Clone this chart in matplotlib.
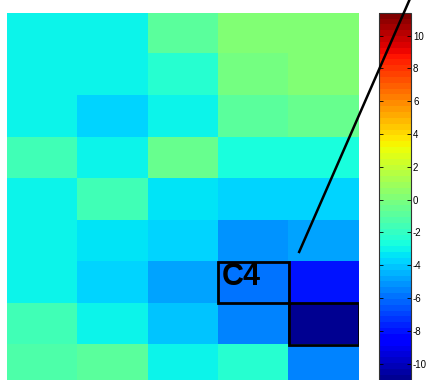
import numpy as np
import matplotlib.pyplot as plt
from matplotlib.patches import Rectangle
from matplotlib.lines import Line2D

plt.rcParams['font.family'] = ['Liberation Sans', 'DejaVu Sans']
plt.rcParams['axes.unicode_minus'] = False

# cell values, rows top to bottom
grid = np.array([
    [-2.9, -2.9, -1.0, 0.3, 0.3],
    [-2.9, -3.2, -2.2, -0.1, 0.3],
    [-2.9, -3.9, -2.9, -0.9, -0.7],
    [-1.5, -2.9, -0.6, -2.8, -2.8],
    [-3.0, -1.6, -3.3, -3.8, -3.9],
    [-3.0, -3.5, -3.8, -5.3, -4.7],
    [-3.0, -3.9, -4.7, -6.0, -8.1],
    [-1.6, -3.0, -4.2, -5.7, -10.9],
    [-1.2, -0.8, -3.2, -2.2, -5.5],
])
vmin, vmax = -11.4, 11.4
cbar_ticks = [-10, -8, -6, -4, -2, 0, 2, 4, 6, 8, 10]

# highlighted cells (col, row)
boxes = [(3, 6), (4, 7)]
box_label = 'C4'

cmap = plt.get_cmap('jet', 64)

fig = plt.figure(figsize=(4.3, 3.8), dpi=100)
ax = fig.add_axes([0.0163, -0.0171, 0.8186, 0.9837])
cax = fig.add_axes([0.882, -0.0171, 0.0737, 0.9837])

nrows, ncols = grid.shape
im = ax.imshow(grid, cmap=cmap, vmin=vmin, vmax=vmax, aspect='auto',
               interpolation='nearest', extent=[0, ncols, nrows, 0])
ax.set_axis_off()

for c, r in boxes:
    ax.add_patch(Rectangle((c, r), 1, 1, fill=False, edgecolor='black',
                           linewidth=2.0, zorder=3))

c0, r0 = boxes[0]
ax.text(c0 + 0.045, r0 + 0.556, box_label, fontsize=22, fontweight='bold',
        ha='left', va='baseline', color='black', zorder=4)

# pointer line running up past the colorbar
fig.add_artist(Line2D([4.15, 6.03], [5.76, -1.52], color='black',
                      linewidth=1.8, transform=ax.transData, zorder=5))

cb = fig.colorbar(im, cax=cax, ticks=cbar_ticks)
cb.outline.set_linewidth(0.8)
cb.outline.set_edgecolor('#333333')
cax.tick_params(direction='in', length=3, width=0.6, labelsize=7, pad=1.5,
                left=True, right=True)

fig.savefig('out.png', dpi=100)
